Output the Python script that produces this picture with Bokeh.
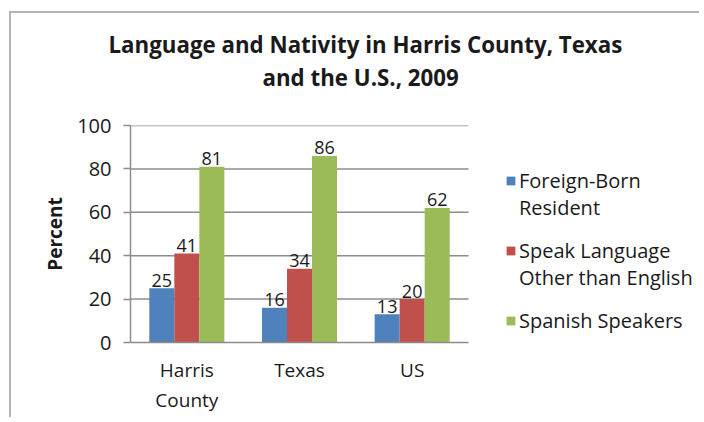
from bokeh.plotting import figure
from bokeh.models import (ColumnDataSource, Range1d, FixedTicker, Legend, LegendItem, Title)
from bokeh.transform import dodge
from bokeh.core.properties import value
from bokeh.embed import file_html
from bokeh.resources import INLINE

# ---- data ----
categories = ["Harris\nCounty", "Texas", "US"]
series_names = ["Foreign-Born\nResident", "Speak Language\nOther than English", "Spanish Speakers"]
foreign_born = [25, 16, 13]
other_language = [41, 34, 20]
spanish = [81, 86, 62]
y_ticks = [0, 20, 40, 60, 80, 100]
title_line1 = "Language and Nativity in Harris County, Texas"
title_line2 = "and the U.S., 2009"
y_label = "Percent"

colors = ["#4F81BD", "#C0504D", "#9BBB59"]
FONT = "Open Sans"
TXT = "#1a1a1a"
GRID = "#8c8c8c"

n = len(categories)
x_pos = [i + 1 for i in range(n)]  # one unit per category

src = ColumnDataSource(dict(
    x=x_pos,
    s0=foreign_born, s1=other_language, s2=spanish,
    t0=[str(v) for v in foreign_born],
    t1=[str(v) for v in other_language],
    t2=[str(v) for v in spanish],
))

W, H = 690, 406
LEFT, RIGHT, TOP, BOTTOM = 119, 2, 112, 77
plot_px = 338                      # pixel width taken by the three categories
frame_w = W - LEFT - RIGHT
x_end = 0.5 + n * frame_w / plot_px

p = figure(width=W, height=H, x_range=Range1d(0.5, x_end), y_range=Range1d(0, 100),
           output_backend="svg", toolbar_location=None, title=None,
           min_border_left=LEFT, min_border_right=RIGHT, min_border_top=TOP, min_border_bottom=BOTTOM)
p.styles = {"margin-left": "9px", "margin-top": "11px",
            "border-top": "2px solid #b4b4b4", "border-left": "2px solid #b4b4b4"}

# horizontal gridlines across the category area only
grid_y = y_ticks[1:]
p.segment(x0=[0.5] * len(grid_y), x1=[n + 0.5] * len(grid_y), y0=grid_y, y1=grid_y,
          line_color=GRID, line_width=1.5)

bw = 0.222
offsets = [-bw, 0.0, bw]
renderers = []
for i in range(3):
    r = p.vbar(x=dodge("x", offsets[i]), top="s%d" % i, width=bw,
               source=src, fill_color=colors[i], line_color=None)
    renderers.append(r)
    p.text(x=dodge("x", offsets[i]), y="s%d" % i, text="t%d" % i,
           source=src, text_align="center", text_baseline="alphabetic", y_offset=-8,
           text_font=value(FONT), text_font_size="18px", text_color=TXT)

# title: spacer, then line 2, then line 1 (stacked outward from the frame)
def make_title(txt, size, offset, standoff):
    return Title(text=txt, align="left", offset=offset, standoff=standoff,
                 text_font=FONT, text_font_style="bold", text_font_size=size, text_color=TXT)

p.add_layout(Title(text=" ", text_font_size="1px", standoff=30), "above")
p.add_layout(make_title(title_line2, "22.3px", 132, 0), "above")
p.add_layout(make_title(title_line1, "22.3px", -22, 0), "above")

# axes
p.yaxis.ticker = FixedTicker(ticks=y_ticks)
p.yaxis.axis_label = y_label
p.yaxis.axis_label_text_font = FONT
p.yaxis.axis_label_text_font_style = "bold"
p.yaxis.axis_label_text_font_size = "19px"
p.yaxis.axis_label_text_color = TXT
p.yaxis.axis_label_standoff = 6
p.yaxis.major_label_text_font = FONT
p.yaxis.major_label_text_font_size = "20px"
p.yaxis.major_label_text_color = TXT
p.yaxis.major_tick_in = 0
p.yaxis.major_tick_out = 7
p.yaxis.major_label_standoff = 12
p.yaxis.minor_tick_line_color = None
p.yaxis.axis_line_color = GRID
p.yaxis.axis_line_width = 1.5
p.yaxis.major_tick_line_color = GRID
p.yaxis.major_tick_line_width = 1.5

p.xaxis.ticker = FixedTicker(ticks=x_pos)
p.xaxis.major_label_overrides = {x: c for x, c in zip(x_pos, categories)}
p.xaxis.bounds = (0.5, n + 0.5)
p.xaxis.major_label_text_font = FONT
p.xaxis.major_label_text_font_size = "19px"
p.xaxis.major_label_text_color = TXT
p.xaxis.major_label_text_line_height = 1.16
p.xaxis.major_tick_line_color = None
p.xaxis.major_tick_out = 0
p.xaxis.major_tick_in = 0
p.xaxis.minor_tick_line_color = None
p.xaxis.major_label_standoff = 14
p.xaxis.axis_line_color = GRID
p.xaxis.axis_line_width = 1.5

p.xgrid.grid_line_color = None
p.ygrid.grid_line_color = None
p.outline_line_color = None

# legend: first line of each name next to its swatch, continuation lines in a swatch-less legend
first_lines = [s.split("\n")[0] for s in series_names]
more_lines = [(s.split("\n")[1], renderers[i]) for i, s in enumerate(series_names) if "\n" in s]

common = dict(orientation="vertical", label_text_font=FONT, label_text_font_size="20px",
              label_text_color=TXT, label_text_line_height=1.35, label_height=27,
              spacing=43, padding=0, margin=0, border_line_color=None, background_fill_alpha=0)

legend = Legend(items=[LegendItem(label=first_lines[i], renderers=[renderers[i]]) for i in range(3)],
                location=(375, 8), glyph_width=11, glyph_height=11, label_standoff=3, **common)
p.add_layout(legend, "center")

legend2 = Legend(items=[LegendItem(label=t, renderers=[r]) for t, r in more_lines],
                 location=(386, 51), glyph_width=0, glyph_height=11, label_standoff=3, **common)
p.add_layout(legend2, "center")

open("out.html", "w").write(file_html(p, INLINE))
